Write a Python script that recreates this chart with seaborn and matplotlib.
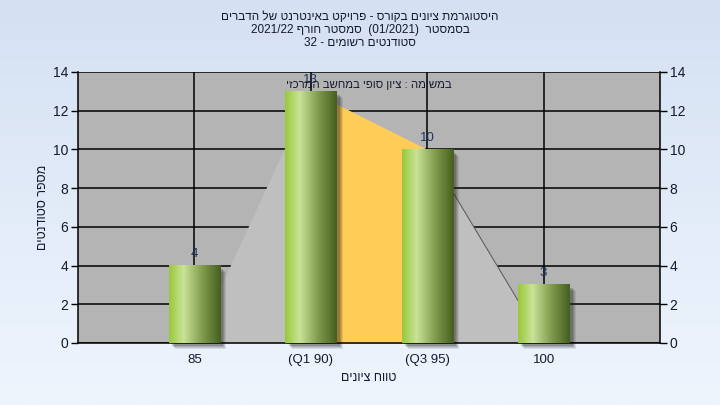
import re

import matplotlib.pyplot as plt
import numpy as np
import pandas as pd
import seaborn as sns

# data
categories = ["85", "(Q1 90)", "(Q3 95)", "100"]
counts = [4, 13, 10, 3]
envelope = [0, 13, 10, 0]  # grey area behind the bars
quartile_idx = [1, 2]  # Q1..Q3 band (orange)

title_lines = [
    "היסטוגרמת ציונים בקורס - פרויקט באינטרנט של הדברים",
    "בסמסטר  (01/2021)  סמסטר חורף 2021/22",
    "סטודנטים רשומים - 32",
]
note = "במשימה : ציון סופי במחשב המרכזי"
xlabel = "טווח ציונים"
ylabel = "מספר סטודנטים"


def rtl(s):
    # crude bidi: reverse, then put latin/number runs back in order, mirror parens
    r = s[::-1]
    r = re.sub(r"[0-9A-Za-z/.]+", lambda m: m.group(0)[::-1], r)
    return r.translate(str.maketrans("()", ")("))


sns.set_style("white")
plt.rcParams["font.family"] = ["Liberation Sans", "DejaVu Sans"]
txt_color = "#141a30"

fig = plt.figure(figsize=(7.2, 4.05), dpi=100)

# background gradient
bg = fig.add_axes([0, 0, 1, 1], zorder=-10)
grad = np.linspace(0, 1, 256).reshape(-1, 1)
top_c = np.array([0xD4, 0xE1, 0xF3]) / 255
bot_c = np.array([0xEF, 0xF5, 0xFD]) / 255
bg.imshow(top_c + grad[..., None] * (bot_c - top_c), aspect="auto", extent=[0, 1, 0, 1])
bg.axis("off")

ax = fig.add_axes([78 / 720, 1 - 343 / 405, 582 / 720, 271 / 405])
ax.set_facecolor("#b4b4b4")

df = pd.DataFrame({"grade": categories, "count": counts})
xs = np.arange(len(categories))

# grey area and orange quartile band
ax.fill_between(xs, envelope, color="#bfbfbf", zorder=1, linewidth=0)
qi = np.array(quartile_idx)
ax.fill_between(qi, np.array(counts)[qi], color="#ffcc55", zorder=1.5, linewidth=0)
ax.plot(xs[2:], np.array(envelope)[2:], color="#555555", linewidth=0.7, zorder=1.6)

sns.barplot(data=df, x="grade", y="count", width=0.44, color="#8fbf40",
            linewidth=0, ax=ax, zorder=3)

# bar gradient: bright green -> pale -> dark olive
stops = [(0.0, "#98c83a"), (0.28, "#c9e398"), (0.65, "#7f9a4c"), (1.0, "#445f1e")]
pos = np.linspace(0, 1, 200)
cols = np.array([plt.matplotlib.colors.to_rgb(c) for _, c in stops])
sp = [s for s, _ in stops]
row = np.stack([np.interp(pos, sp, cols[:, k]) for k in range(3)], axis=-1)[None, :, :]

px_x = 4 / 116.4
px_y = 4 / (271 / 14)
for p in list(ax.patches):
    x0, w, h = p.get_x(), p.get_width(), p.get_height()
    # soft shadow
    for k, a in enumerate([0.10, 0.12, 0.16, 0.2]):
        off = 1.6 - k * 0.25
        ax.add_patch(plt.Rectangle((x0 + px_x * off, -px_y * off), w, h,
                                   color="#222222", alpha=a, linewidth=0,
                                   zorder=2.5, clip_on=False))
    ax.imshow(row, extent=[x0, x0 + w, 0, h], aspect="auto", zorder=3.2,
              interpolation="bilinear")
    p.set_alpha(0)
    ax.text(x0 + w / 2, h + 0.3, f"{int(h)}", ha="center", va="bottom",
            fontsize=9.5, color="#1e3560", zorder=5)

ax.set_xlim(-1, 4)
ax.set_ylim(0, 14)
ax.set_yticks(range(0, 15, 2))
ax.set_xticks(xs)
ax.set_xticklabels(categories)
ax.grid(True, color="black", linewidth=1.1, zorder=0)
ax.set_axisbelow(True)
for s in ax.spines.values():
    s.set_color("black")
    s.set_linewidth(1.1)
ax.spines["top"].set_visible(False)
ax.tick_params(axis="both", direction="out", length=5, width=1, color="black",
               labelcolor=txt_color)
ax.tick_params(axis="y", labelsize=10, pad=2)
ax.tick_params(axis="x", labelsize=9.5, pad=3)
ax.set_xlabel(rtl(xlabel), fontsize=9, color=txt_color, labelpad=4)
ax.set_ylabel(rtl(ylabel), fontsize=9, color=txt_color, labelpad=3)

ax2 = ax.twinx()
ax2.set_ylim(0, 14)
ax2.set_yticks(range(0, 15, 2))
ax2.tick_params(axis="y", direction="out", length=5, width=1, color="black",
                labelcolor=txt_color, labelsize=10, pad=2)
for s in ax2.spines.values():
    s.set_visible(False)

ax.text(0.5, 1 - 13 / 271, rtl(note), transform=ax.transAxes, ha="center",
        va="center", fontsize=8.2, color=txt_color, zorder=6)

for i, line in enumerate(title_lines):
    fig.text(0.5, 1 - (17 + 13 * i) / 405, rtl(line), ha="center", va="center",
             fontsize=8.5, color=txt_color)

fig.savefig("out.png", dpi=100)
